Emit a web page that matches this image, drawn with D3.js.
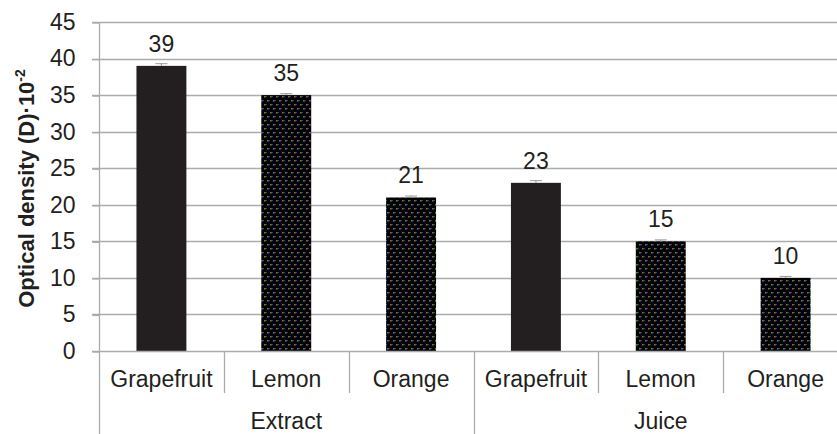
<!DOCTYPE html>
<html>
<head>
<meta charset="utf-8">
<script src="https://cdn.jsdelivr.net/npm/d3@7"></script>
<style>
  html, body { margin: 0; padding: 0; background: #fff; }
  svg { display: block; font-family: "Liberation Sans", Arial, Helvetica, sans-serif; }
</style>
</head>
<body>
<svg id="chart" width="837" height="434"></svg>
<script>
// Optical density of citrus extracts and juices
const groups = ["Extract", "Juice"];
const fruits = ["Grapefruit", "Lemon", "Orange"];
const values = [39, 35, 21, 23, 15, 10];
const errors = [0.3, 0.2, 0.2, 0.3, 0.2, 0.2];
const yTicks = [0, 5, 10, 15, 20, 25, 30, 35, 40, 45];

const rows = [];
groups.forEach((g, gi) => fruits.forEach((f, fi) => {
  const i = gi * fruits.length + fi;
  rows.push({ key: g + "|" + f, group: g, fruit: f, value: values[i], err: errors[i] });
}));

const svg = d3.select("#chart");
const plotLeft = 99, plotRight = 848, plotTop = 22, plotBottom = 351;
const textColor = "#231f20";
const gridColor = "#ababab";
const fontSize = 23;

const y = d3.scaleLinear().domain([0, 45]).range([plotBottom, plotTop]);
const x = d3.scaleBand().domain(rows.map(d => d.key)).range([plotLeft, plotRight])
  .paddingInner(0.6).paddingOuter(0.3);
const step = x.step();

// dotted fill used for lemon and orange bars
const defs = svg.append("defs");
const pat = defs.append("pattern").attr("id", "dots")
  .attr("patternUnits", "userSpaceOnUse").attr("width", 6).attr("height", 8);
pat.append("rect").attr("width", 6).attr("height", 8).attr("fill", "#030303");
const dotCells = [
  [0, 0, "#18b020"], [1, 0, "#e01818"], [2, 0, "#2030f0"],
  [3, 4, "#18b020"], [4, 4, "#e01818"], [5, 4, "#2030f0"],
  [1, 1, "#7a1020"], [4, 5, "#10307a"], [0, 1, "#0e5a12"], [3, 5, "#0e5a12"]
];
pat.selectAll("rect.px").data(dotCells).join("rect").attr("class", "px")
  .attr("x", d => d[0]).attr("y", d => d[1]).attr("width", 1).attr("height", 1)
  .attr("fill", d => d[2]);

// horizontal gridlines
svg.append("g").selectAll("line").data(yTicks.filter(t => t > 0)).join("line")
  .attr("x1", plotLeft - 7).attr("x2", plotRight)
  .attr("y1", d => Math.round(y(d)) + 0.5).attr("y2", d => Math.round(y(d)) + 0.5)
  .attr("stroke", gridColor).attr("stroke-width", 1.3);

// y axis
const yAxis = svg.append("g").attr("transform", `translate(${plotLeft + 0.5},0)`)
  .call(d3.axisLeft(y).tickValues(yTicks).tickSize(7).tickPadding(17));
yAxis.select(".domain").attr("stroke", gridColor).attr("stroke-width", 1.3)
  .attr("d", `M0,${plotTop}V${plotBottom}`);
yAxis.selectAll(".tick line").attr("stroke", gridColor).attr("stroke-width", 1.3)
  .attr("transform", "translate(0,0.5)");
yAxis.selectAll(".tick text").attr("fill", textColor).attr("font-size", fontSize)
  .attr("font-family", "Liberation Sans, Arial, sans-serif");

// axis title
svg.append("text")
  .attr("transform", `translate(34,${(plotTop + plotBottom) / 2 + 2}) rotate(-90)`)
  .attr("text-anchor", "middle").attr("font-size", 22).attr("font-weight", "bold")
  .attr("fill", textColor)
  .text("Optical density (D)·10")
  .append("tspan").attr("font-size", 14).attr("dy", -9).text("-2");

// bars
svg.append("g").selectAll("rect").data(rows).join("rect")
  .attr("x", d => x(d.key)).attr("width", x.bandwidth())
  .attr("y", d => y(d.value)).attr("height", d => y(0) - y(d.value))
  .attr("fill", d => d.fruit === "Grapefruit" ? "#231f20" : "url(#dots)");

// error bars
const eb = svg.append("g").selectAll("g").data(rows).join("g");
eb.append("line")
  .attr("x1", d => x(d.key) + x.bandwidth() / 2).attr("x2", d => x(d.key) + x.bandwidth() / 2)
  .attr("y1", d => y(d.value + d.err)).attr("y2", d => y(d.value))
  .attr("stroke", "#8c8c8c").attr("stroke-width", 1);
eb.append("line")
  .attr("x1", d => x(d.key) + x.bandwidth() / 2 - 6).attr("x2", d => x(d.key) + x.bandwidth() / 2 + 6)
  .attr("y1", d => y(d.value + d.err)).attr("y2", d => y(d.value + d.err))
  .attr("stroke", "#9a9a9a").attr("stroke-width", 1);

// value labels
svg.append("g").selectAll("text").data(rows).join("text")
  .attr("x", d => x(d.key) + x.bandwidth() / 2)
  .attr("y", d => y(d.value) - 14)
  .attr("text-anchor", "middle").attr("font-size", fontSize).attr("fill", textColor)
  .text(d => d.value);

// x axis baseline
svg.append("line").attr("x1", plotLeft - 7).attr("x2", plotRight)
  .attr("y1", plotBottom + 0.5).attr("y2", plotBottom + 0.5)
  .attr("stroke", gridColor).attr("stroke-width", 1.3);

// category dividers: short between fruits, long between groups
const nCat = rows.length;
const dividers = d3.range(nCat + 1).map(i => ({ i, x: plotLeft + i * step }));
svg.append("g").selectAll("line").data(dividers).join("line")
  .attr("x1", d => Math.round(d.x) + 0.5).attr("x2", d => Math.round(d.x) + 0.5)
  .attr("y1", plotBottom)
  .attr("y2", d => d.i % fruits.length === 0 ? 434 : 393)
  .attr("stroke", gridColor).attr("stroke-width", 1.3);

// fruit labels
svg.append("g").selectAll("text").data(rows).join("text")
  .attr("x", d => x(d.key) + x.bandwidth() / 2).attr("y", 387)
  .attr("text-anchor", "middle").attr("font-size", fontSize).attr("fill", textColor)
  .text(d => d.fruit);

// group labels
svg.append("g").selectAll("text").data(groups).join("text")
  .attr("x", (d, i) => plotLeft + (i + 0.5) * fruits.length * step).attr("y", 429)
  .attr("text-anchor", "middle").attr("font-size", fontSize).attr("fill", textColor)
  .text(d => d);
</script>
</body>
</html>
